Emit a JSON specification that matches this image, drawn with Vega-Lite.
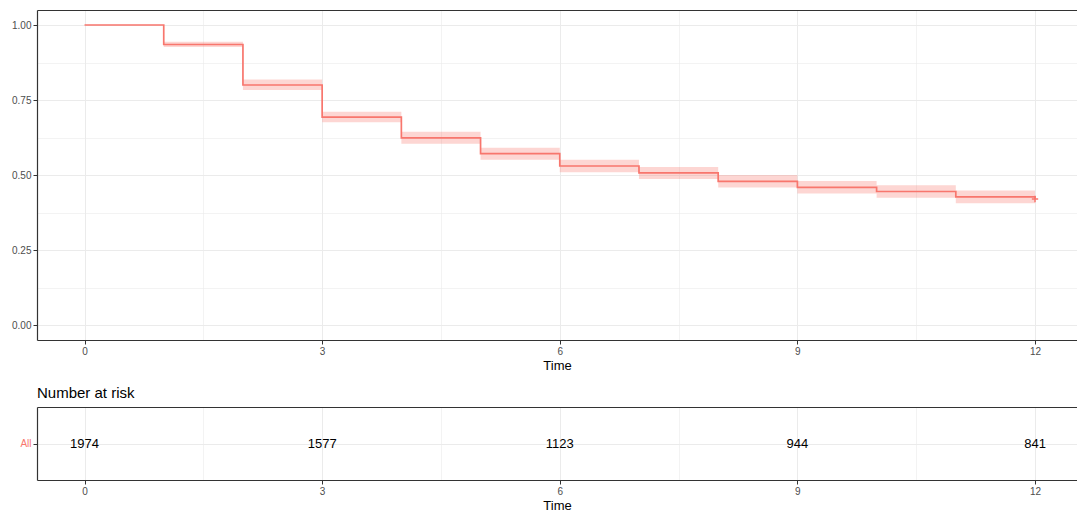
{
  "$schema": "https://vega.github.io/schema/vega-lite/v6.json",
  "padding": {"left": 7, "top": 10, "right": 0, "bottom": 0},
  "spacing": 14,
  "config": {
    "font": "Liberation Sans",
    "view": {"stroke": null},
    "axis": {
      "labelFont": "Liberation Sans", "labelFontSize": 10, "labelColor": "#4D4D4D",
      "tickColor": "#333333", "tickSize": 4, "tickWidth": 1,
      "domainColor": "#333333", "domainWidth": 1.2,
      "gridColor": "#EBEBEB", "gridWidth": 1,
      "titleFont": "Liberation Sans", "titleFontSize": 13, "titleFontWeight": "normal", "titleColor": "#000000",
      "labelPadding": 2, "titlePadding": 3
    }
  },
  "datasets": {
    "km": [
      {"time": 0, "surv": 1.0, "lower": 1.0, "upper": 1.0},
      {"time": 1, "surv": 0.935, "lower": 0.927, "upper": 0.944},
      {"time": 2, "surv": 0.800, "lower": 0.783, "upper": 0.818},
      {"time": 3, "surv": 0.693, "lower": 0.676, "upper": 0.711},
      {"time": 4, "surv": 0.624, "lower": 0.604, "upper": 0.644},
      {"time": 5, "surv": 0.571, "lower": 0.551, "upper": 0.591},
      {"time": 6, "surv": 0.530, "lower": 0.509, "upper": 0.551},
      {"time": 7, "surv": 0.507, "lower": 0.487, "upper": 0.527},
      {"time": 8, "surv": 0.479, "lower": 0.458, "upper": 0.500},
      {"time": 9, "surv": 0.459, "lower": 0.438, "upper": 0.480},
      {"time": 10, "surv": 0.445, "lower": 0.424, "upper": 0.466},
      {"time": 11, "surv": 0.427, "lower": 0.406, "upper": 0.448},
      {"time": 12, "surv": 0.420, "lower": 0.399, "upper": 0.441}
    ],
    "censor": [
      {"time": 12, "surv": 0.420}
    ],
    "risk": [
      {"time": 0, "strata": "All", "n": 1974},
      {"time": 3, "strata": "All", "n": 1577},
      {"time": 6, "strata": "All", "n": 1123},
      {"time": 9, "strata": "All", "n": 944},
      {"time": 12, "strata": "All", "n": 841}
    ]
  },
  "vconcat": [
    {
      "width": 1040,
      "height": 330,
      "data": {"name": "km"},
      "resolve": {"axis": {"x": "independent", "y": "independent"}},
      "layer": [
        {
          "mark": {"type": "area", "interpolate": "step-after", "color": "#F8766D", "opacity": 0.3},
          "encoding": {
            "x": {"field": "time", "type": "quantitative",
              "scale": {"domain": [-0.6, 12.53], "nice": false, "zero": false},
              "axis": {"orient": "bottom", "values": [0, 3, 6, 9, 12], "title": "Time", "grid": true, "labelFlush": false}},
            "y": {"field": "lower", "type": "quantitative",
              "scale": {"domain": [-0.05, 1.05], "nice": false, "zero": false},
              "axis": {"orient": "left", "values": [0, 0.25, 0.5, 0.75, 1], "format": ".2f", "title": null, "grid": true, "minExtent": 30, "maxExtent": 30}},
            "y2": {"field": "upper"}
          }
        },
        {
          "mark": {"type": "line", "interpolate": "step-after", "color": "#F8766D", "strokeWidth": 1.7},
          "encoding": {
            "x": {"field": "time", "type": "quantitative",
              "axis": {"orient": "top", "values": [1.5, 4.5, 7.5, 10.5], "labels": false, "ticks": false, "title": null, "grid": true, "gridWidth": 0.6, "domain": true}},
            "y": {"field": "surv", "type": "quantitative",
              "axis": {"orient": "right", "values": [0.125, 0.375, 0.625, 0.875], "labels": false, "ticks": false, "domain": false, "title": null, "grid": true, "gridWidth": 0.6}}
          }
        },
        {
          "data": {"name": "censor"},
          "mark": {"type": "point", "shape": "M-1,0L1,0M0,-1L0,1", "filled": false, "color": "#F8766D", "strokeWidth": 1.5, "size": 40, "opacity": 1},
          "encoding": {
            "x": {"field": "time", "type": "quantitative", "axis": null},
            "y": {"field": "surv", "type": "quantitative", "axis": null}
          }
        }
      ]
    },
    {
      "title": {"text": "Number at risk", "anchor": "start", "frame": "group", "fontSize": 15, "fontWeight": "normal", "color": "#000000", "offset": 6, "font": "Liberation Sans"},
      "width": 1040,
      "height": 73,
      "data": {"name": "risk"},
      "resolve": {"axis": {"x": "independent", "y": "independent"}},
      "layer": [
        {
          "mark": {"type": "text", "fontSize": 13, "color": "#000000", "font": "Liberation Sans"},
          "encoding": {
            "x": {"field": "time", "type": "quantitative",
              "scale": {"domain": [-0.6, 12.53], "nice": false, "zero": false},
              "axis": {"orient": "bottom", "values": [0, 3, 6, 9, 12], "title": "Time", "grid": true, "labelFlush": false}},
            "y": {"field": "strata", "type": "nominal",
              "scale": {"type": "point", "padding": 0.5},
              "axis": {"orient": "left", "title": null, "grid": true, "labelColor": "#F8766D", "labelAngle": 0, "minExtent": 30, "maxExtent": 30}},
            "text": {"field": "n", "type": "quantitative", "format": "d"}
          }
        },
        {
          "mark": {"type": "text", "opacity": 0},
          "encoding": {
            "x": {"field": "time", "type": "quantitative",
              "axis": {"orient": "top", "values": [1.5, 4.5, 7.5, 10.5], "labels": false, "ticks": false, "title": null, "grid": true, "gridWidth": 0.6, "domain": true}},
            "y": {"field": "strata", "type": "nominal", "axis": null},
            "text": {"field": "n", "type": "quantitative", "format": "d"}
          }
        }
      ]
    }
  ]
}
